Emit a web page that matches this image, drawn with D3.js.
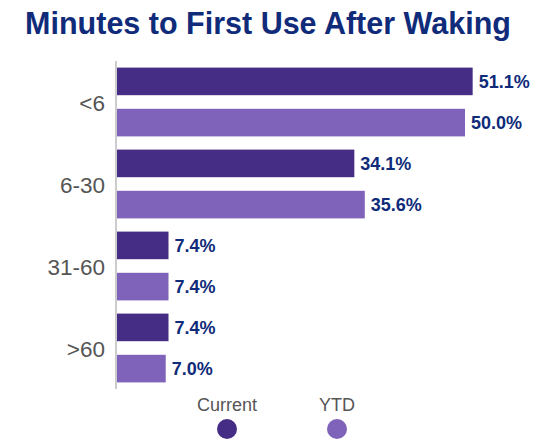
<!DOCTYPE html>
<html>
<head>
<meta charset="utf-8">
<script src="https://cdn.jsdelivr.net/npm/d3@7"></script>
<style>
  body { margin: 0; background: #fff; }
  svg { font-family: "Liberation Sans", Arial, sans-serif; }
</style>
</head>
<body>
<script>
// chart data
var categories = ["<6", "6-30", "31-60", ">60"];
var seriesNames = ["Current", "YTD"];
var currentValues = [51.1, 34.1, 7.4, 7.4];
var ytdValues = [50.0, 35.6, 7.4, 7.0];
var colors = ["#452c84", "#7f62b9"];

var width = 552,
    height = 439;

var svg = d3.select("body")
    .append("svg")
    .attr("width", width)
    .attr("height", height);

// title
svg.append("text")
    .attr("x", 268)
    .attr("y", 34)
    .attr("text-anchor", "middle")
    .attr("font-size", 30.5)
    .attr("font-weight", "bold")
    .attr("fill", "#0f2b7a")
    .text("Minutes to First Use After Waking");

var x = d3.scaleLinear()
    .domain([0, 60])
    .range([117, 117 + 6.96 * 60]);

// outer band per category, inner band per series
var y0 = d3.scaleBand()
    .domain(categories)
    .range([61, 389])
    .paddingInner(0)
    .paddingOuter(0);

var y1 = d3.scaleBand()
    .domain(seriesNames)
    .range([0, y0.bandwidth()])
    .paddingInner(0.33)
    .paddingOuter(0.16);

var rows = [];
categories.forEach(function(c, i){
    rows.push({cat: c, series: "Current", value: currentValues[i]});
    rows.push({cat: c, series: "YTD", value: ytdValues[i]});
});

svg.selectAll(".bar")
    .data(rows)
    .enter()
    .append("rect")
    .attr("class", "bar")
    .attr("x", x(0))
    .attr("y", function(d){ return y0(d.cat) + y1(d.series); })
    .attr("width", function(d){ return x(d.value) - x(0); })
    .attr("height", y1.bandwidth())
    .attr("fill", function(d){ return d.series === "Current" ? colors[0] : colors[1]; });

svg.selectAll(".val")
    .data(rows)
    .enter()
    .append("text")
    .attr("class", "val")
    .attr("x", function(d){ return x(d.value) + 6; })
    .attr("y", function(d){ return y0(d.cat) + y1(d.series) + y1.bandwidth() / 2; })
    .attr("dy", "0.36em")
    .attr("font-size", 18)
    .attr("font-weight", "bold")
    .attr("fill", "#0f2b7a")
    .text(function(d){ return d.value.toFixed(1) + "%"; });

// y axis line and category labels
svg.append("line")
    .attr("x1", x(0) - 1)
    .attr("x2", x(0) - 1)
    .attr("y1", y0.range()[0])
    .attr("y2", y0.range()[1])
    .attr("stroke", "#cccccc")
    .attr("stroke-width", 2);

svg.selectAll(".cat")
    .data(categories)
    .enter()
    .append("text")
    .attr("class", "cat")
    .attr("x", 105)
    .attr("y", function(d){ return y0(d) + y0.bandwidth() / 2 + 1; })
    .attr("dy", "0.36em")
    .attr("text-anchor", "end")
    .attr("font-size", 22.5)
    .attr("fill", "#555555")
    .text(function(d){ return d; });

// legend
var legendX = [227, 337];
var legend = svg.selectAll(".legend")
    .data(seriesNames)
    .enter()
    .append("g")
    .attr("class", "legend")
    .attr("transform", function(d, i){ return "translate(" + legendX[i] + ",0)"; });

legend.append("text")
    .attr("y", 411)
    .attr("text-anchor", "middle")
    .attr("font-size", 18)
    .attr("fill", "#555555")
    .text(function(d){ return d; });

legend.append("circle")
    .attr("cy", 429)
    .attr("r", 10)
    .attr("fill", function(d, i){ return colors[i]; });
</script>
</body>
</html>
